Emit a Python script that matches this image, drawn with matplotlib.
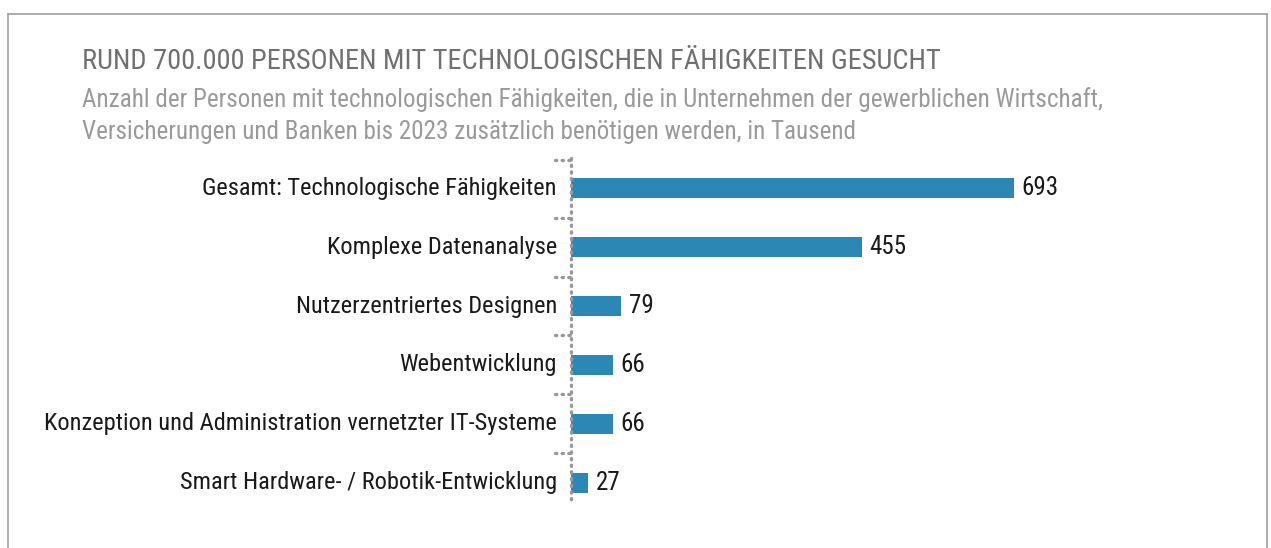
import matplotlib
matplotlib.use("Agg")
import matplotlib.pyplot as plt
from matplotlib import font_manager
import matplotlib.transforms as mtransforms

# data
categories = [
    "Gesamt: Technologische Fähigkeiten",
    "Komplexe Datenanalyse",
    "Nutzerzentriertes Designen",
    "Webentwicklung",
    "Konzeption und Administration vernetzter IT-Systeme",
    "Smart Hardware- / Robotik-Entwicklung",
]
values = [693, 455, 79, 66, 66, 27]

title = "RUND 700.000 PERSONEN MIT TECHNOLOGISCHEN FÄHIGKEITEN GESUCHT"
subtitle_lines = [
    "Anzahl der Personen mit technologischen Fähigkeiten, die in Unternehmen der gewerblichen Wirtschaft,",
    "Versicherungen und Banken bis 2023 zusätzlich benötigen werden, in Tausend",
]

# pick a condensed font if there is one
names = {f.name for f in font_manager.fontManager.ttflist}
font = "Liberation Sans"
for cand in ["Roboto Condensed", "Archivo Narrow", "PT Sans Narrow", "Liberation Sans Narrow"]:
    if cand in names:
        font = cand
        break
plt.rcParams["font.family"] = [font, "DejaVu Sans"]

W, H = 1271, 548
fig = plt.figure(figsize=(W / 100, H / 100), dpi=100)

# frame round the chart (open at the bottom)
fig.add_artist(plt.Line2D([8 / W, 8 / W], [0, 1 - 14 / H], color="#a0a0a0", lw=1.2))
fig.add_artist(plt.Line2D([8 / W, 1267 / W], [1 - 14 / H, 1 - 14 / H], color="#a0a0a0", lw=1.2))
fig.add_artist(plt.Line2D([1267 / W, 1267 / W], [0, 1 - 14 / H], color="#a0a0a0", lw=1.2))

fig.text(82 / W, 1 - 61 / H, title, color="#707070", fontsize=20.45, va="center", ha="left")
for i, line in enumerate(subtitle_lines):
    fig.text(82 / W, 1 - (100 + 32 * i) / H, line, color="#9a9a9a", fontsize=18.1,
             va="center", ha="left")

# axes: x from 571 px, 0.639 px per unit; y from 158 px to 500 px
ax = fig.add_axes([571 / W, 1 - 500 / H, 639 / W, 342 / H])
ax.set_xlim(0, 1000)
ax.set_ylim(5.29, -0.51)

ypos = list(range(len(categories)))
ax.barh(ypos, values, height=0.34, color="#2b88b4")

for y, v in zip(ypos, values):
    ax.text(v + 12, y, str(v), va="center", ha="left", fontsize=18, color="#1a1a1a")

for y, c in zip(ypos, categories):
    ax.text(-22, y, c, va="center", ha="right", fontsize=17.55, color="#1a1a1a")

for s in ax.spines.values():
    s.set_visible(False)
ax.set_xticks([])
ax.set_yticks([])

# dotted axis line and small dotted ticks between categories
ax.plot([0, 0], [-0.51, 5.29], color="#999999", lw=2.4, ls=(0, (0.4, 1.6)),
        dash_capstyle="round", clip_on=False)
trans = mtransforms.blended_transform_factory(ax.transAxes, ax.transData)
for b in [-0.47, 0.5, 1.5, 2.5, 3.5, 4.5]:
    ax.plot([-16 / 639, 0], [b, b], transform=trans, color="#999999", lw=2.4,
            ls=(0, (0.4, 1.6)), dash_capstyle="round", clip_on=False)

fig.savefig("out.png", dpi=100)
